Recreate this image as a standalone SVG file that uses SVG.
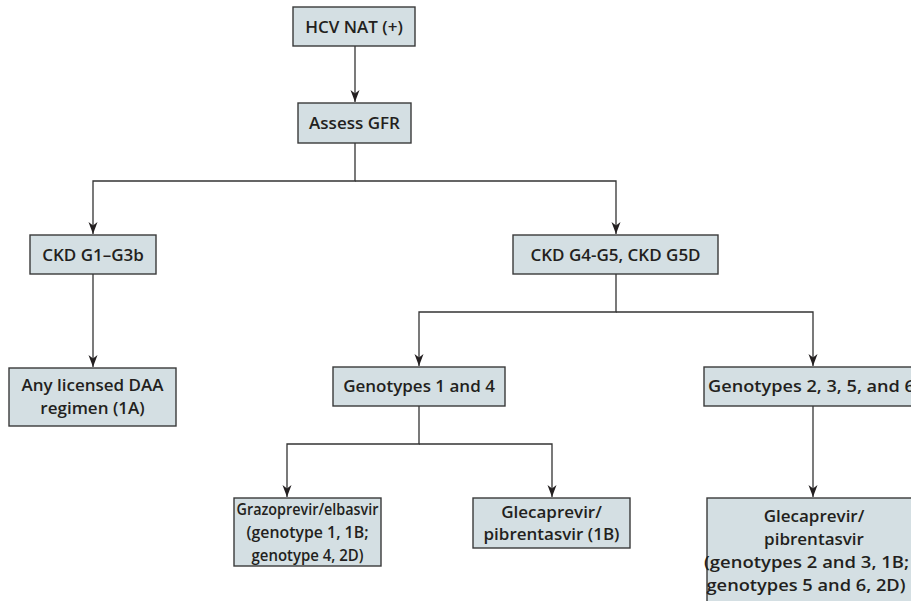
<svg xmlns="http://www.w3.org/2000/svg" width="911" height="601" viewBox="0 0 911 601">
<style>
.box{fill:#d4dfe3;stroke:#3a3a3a;stroke-width:1.4}
.t{font-family:"Open Sans","Liberation Sans",sans-serif;font-weight:600;font-size:17px;fill:#231f20;text-anchor:middle}
.c{fill:none;stroke:#333333;stroke-width:1.3}
</style>
<defs>
<marker id="ah" markerWidth="12" markerHeight="10" refX="12" refY="5" orient="auto" markerUnits="userSpaceOnUse" viewBox="0 0 12 10">
<path d="M0,0.5 L3.5,5 L0,9.5 L12,5 Z" fill="#231f20"/>
</marker>
</defs>
<rect width="911" height="601" fill="#ffffff"/>
<g id="connectors">
<path class="c" d="M355,46 V102" marker-end="url(#ah)"/>
<path class="c" d="M355,143 V181 H93 V234" marker-end="url(#ah)"/>
<path class="c" d="M355,181 H616 V234" marker-end="url(#ah)"/>
<path class="c" d="M93,274 V367" marker-end="url(#ah)"/>
<path class="c" d="M616,274 V312 H419 V366" marker-end="url(#ah)"/>
<path class="c" d="M616,312 H813 V366" marker-end="url(#ah)"/>
<path class="c" d="M419,406 V444 H287 V497" marker-end="url(#ah)"/>
<path class="c" d="M419,444 H552 V497" marker-end="url(#ah)"/>
<path class="c" d="M813,406 V497" marker-end="url(#ah)"/>
</g>
<g id="n1"><rect class="box" x="293" y="7" width="122" height="39"/><text class="t" x="354" y="33">HCV NAT (+)</text></g>
<g id="n2"><rect class="box" x="298" y="103" width="113" height="40"/><text class="t" x="354.5" y="129">Assess GFR</text></g>
<g id="n3"><rect class="box" x="30" y="235" width="126" height="39"/><text class="t" x="93" y="261">CKD G1–G3b</text></g>
<g id="n4"><rect class="box" x="513" y="235" width="205" height="39"/><text class="t" x="615.5" y="261">CKD G4-G5, CKD G5D</text></g>
<g id="n5"><rect class="box" x="9" y="368" width="167" height="58"/><text class="t" x="92.5" y="391">Any licensed DAA</text><text class="t" x="92.5" y="414">regimen (1A)</text></g>
<g id="n6"><rect class="box" x="333" y="367" width="172" height="39"/><text class="t" x="419" y="392">Genotypes 1 and 4</text></g>
<g id="n7"><rect class="box" x="704" y="367" width="218" height="39"/><text class="t" x="708" y="392" style="text-anchor:start" textLength="207" lengthAdjust="spacingAndGlyphs">Genotypes 2, 3, 5, and 6</text></g>
<g id="n8"><rect class="box" x="234" y="498" width="147" height="68"/><text class="t" x="307.5" y="515" textLength="142" lengthAdjust="spacingAndGlyphs">Grazoprevir/elbasvir</text><text class="t" x="307.5" y="538" textLength="122" lengthAdjust="spacingAndGlyphs">(genotype 1, 1B;</text><text class="t" x="307.5" y="561" textLength="112" lengthAdjust="spacingAndGlyphs">genotype 4, 2D)</text></g>
<g id="n9"><rect class="box" x="473" y="498" width="157" height="50"/><text class="t" x="551.5" y="518">Glecaprevir/</text><text class="t" x="551.5" y="540">pibrentasvir (1B)</text></g>
<g id="n10"><rect class="box" x="707" y="498" width="215" height="110"/><text class="t" x="814" y="522">Glecaprevir/</text><text class="t" x="814" y="545">pibrentasvir</text><text class="t" x="806.5" y="568" textLength="205" lengthAdjust="spacingAndGlyphs">(genotypes 2 and 3, 1B;</text><text class="t" x="806" y="591" textLength="199" lengthAdjust="spacingAndGlyphs">genotypes 5 and 6, 2D)</text></g>
</svg>
